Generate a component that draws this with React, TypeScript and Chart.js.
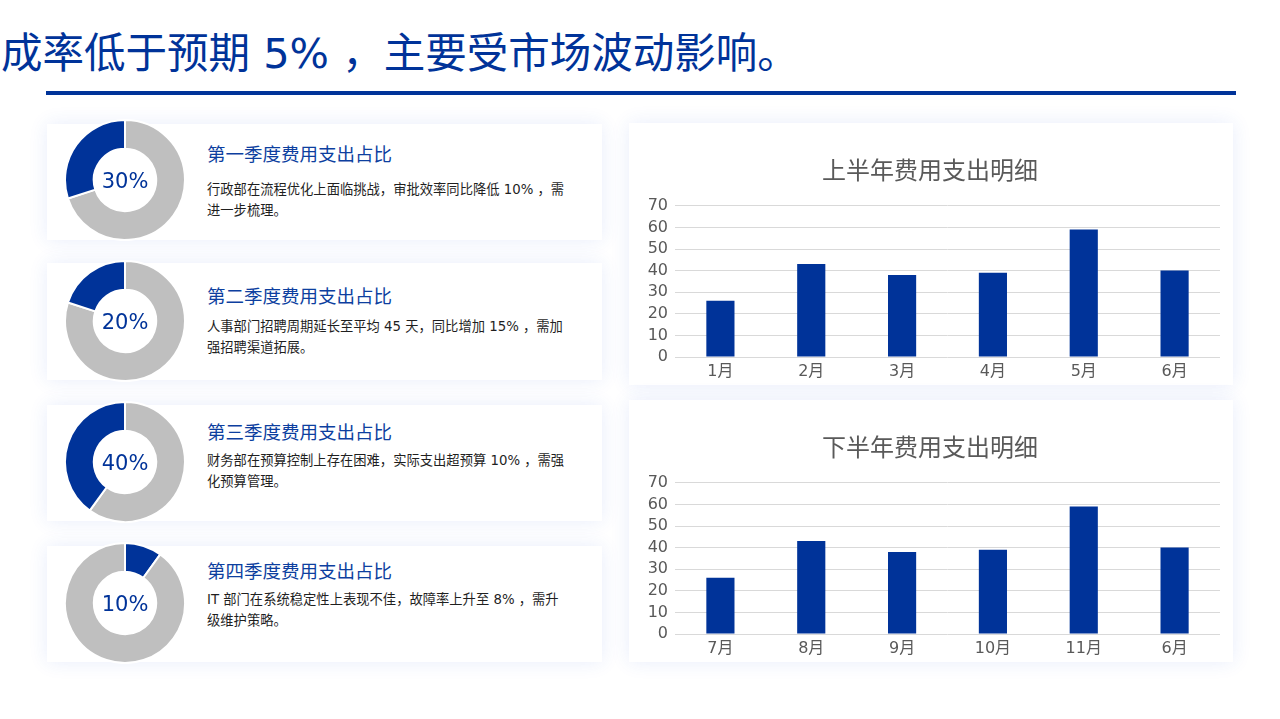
import React, { useEffect, useRef } from 'react';
import { Chart, registerables } from 'chart.js';

Chart.register(...registerables);

const pageTitle = '成率低于预期 5% ，主要受市场波动影响。';

const quarterTitles = ['第一季度费用支出占比', '第二季度费用支出占比', '第三季度费用支出占比', '第四季度费用支出占比'];
const quarterShares = [30, 20, 40, 10];
const quarterDescLines = [
  ['行政部在流程优化上面临挑战，审批效率同比降低 10% ，需', '进一步梳理。'],
  ['人事部门招聘周期延长至平均 45 天，同比增加 15% ，需加', '强招聘渠道拓展。'],
  ['财务部在预算控制上存在困难，实际支出超预算 10% ，需强', '化预算管理。'],
  ['IT 部门在系统稳定性上表现不佳，故障率上升至 8% ，需升', '级维护策略。'],
];
const shareClockwise = [false, false, false, true];

const firstHalfTitle = '上半年费用支出明细';
const firstHalfMonths = ['1月', '2月', '3月', '4月', '5月', '6月'];
const firstHalfValues = [26, 43, 38, 39, 59, 40];

const secondHalfTitle = '下半年费用支出明细';
const secondHalfMonths = ['7月', '8月', '9月', '10月', '11月', '6月'];
const secondHalfValues = [26, 43, 38, 39, 59, 40];

const yMax = 70;
const yStep = 10;

const BLUE = '#003399';
const GRAY = '#bfbfbf';
const FONT = '"DejaVu Sans", "Noto Sans CJK SC", sans-serif';
const SHADOW = '0 0 18px rgba(50,90,220,0.11)';

const cardTops = [124, 263, 405, 546];
const cardHeights = [116, 117, 116, 116];
const donutCenters = [180, 321, 462, 603];
const titleCenters = [155, 297, 433, 572];
const descCenters = [190, 327, 461, 600];

function Donut({ value, clockwise, cy }: { value: number; clockwise: boolean; cy: number }) {
  const ref = useRef<HTMLCanvasElement>(null);
  useEffect(() => {
    if (!ref.current) return;
    const data = clockwise ? [value, 100 - value] : [100 - value, value];
    const colors = clockwise ? [BLUE, GRAY] : [GRAY, BLUE];
    const chart = new Chart(ref.current, {
      type: 'doughnut',
      data: {
        labels: ['a', 'b'],
        datasets: [{ data, backgroundColor: colors, borderColor: '#ffffff', borderWidth: 2 }],
      },
      options: {
        animation: false,
        responsive: false,
        cutout: '52%',
        plugins: { legend: { display: false }, tooltip: { enabled: false } },
        layout: { padding: 0 },
      },
    });
    return () => chart.destroy();
  }, [value, clockwise]);
  return (
    <div style={{ position: 'absolute', left: 64, top: cy - 61, width: 122, height: 122 }}>
      <canvas ref={ref} width={122} height={122} style={{ width: 122, height: 122 }} />
      <div
        style={{
          position: 'absolute',
          left: 0,
          top: 1,
          width: 122,
          height: 122,
          display: 'flex',
          alignItems: 'center',
          justifyContent: 'center',
          color: BLUE,
          fontSize: 21,
          fontFamily: FONT,
        }}
      >
        {value}%
      </div>
    </div>
  );
}

function BarPanel({ title, labels, values, top }: { title: string; labels: string[]; values: number[]; top: number }) {
  const ref = useRef<HTMLCanvasElement>(null);
  useEffect(() => {
    if (!ref.current) return;
    const chart = new Chart(ref.current, {
      type: 'bar',
      data: {
        labels,
        datasets: [
          {
            data: values,
            backgroundColor: BLUE,
            borderWidth: 0,
            barPercentage: 0.31,
            categoryPercentage: 1,
          },
        ],
      },
      options: {
        animation: false,
        responsive: false,
        layout: { padding: { left: 0, right: 10, top: 0, bottom: 0 } },
        plugins: {
          legend: { display: false },
          tooltip: { enabled: false },
          title: {
            display: true,
            text: title,
            color: '#595959',
            font: { family: FONT, size: 24, weight: 'normal' },
            padding: { top: 28, bottom: 19 },
          },
        },
        scales: {
          x: {
            grid: { display: false, drawTicks: false },
            border: { display: false },
            ticks: { color: '#595959', font: { family: FONT, size: 16 }, padding: 5, autoSkip: false, maxRotation: 0 },
            afterFit: (s: any) => {
              s.height = 33;
            },
          },
          y: {
            min: 0,
            max: yMax,
            ticks: { stepSize: yStep, autoSkip: false, color: '#595959', font: { family: FONT, size: 16 }, padding: 7 },
            grid: { color: '#d9d9d9', lineWidth: 1, drawTicks: false },
            border: { display: false },
            afterFit: (s: any) => {
              s.width = 35;
            },
          },
        },
      },
    });
    return () => chart.destroy();
  }, [title, labels, values]);
  return (
    <div
      style={{
        position: 'absolute',
        left: 629,
        top,
        width: 604,
        height: 262,
        background: '#ffffff',
        boxShadow: SHADOW,
      }}
    >
      <canvas
        ref={ref}
        width={590}
        height={260}
        style={{ position: 'absolute', left: 11, top: 7, width: 590, height: 260 }}
      />
    </div>
  );
}

export default function App() {
  return (
    <div
      style={{
        position: 'fixed',
        left: 0,
        top: 0,
        width: 1280,
        height: 719,
        background: '#ffffff',
        overflow: 'hidden',
        fontFamily: FONT,
      }}
    >
      <div
        style={{
          position: 'absolute',
          left: 1,
          top: 27,
          fontSize: 41.5,
          lineHeight: '54px',
          color: BLUE,
          whiteSpace: 'nowrap',
        }}
      >
        {pageTitle}
      </div>
      <div style={{ position: 'absolute', left: 46, top: 91, width: 1190, height: 4, background: BLUE }} />

      {quarterTitles.map((t, i) => (
        <div
          key={'card' + i}
          style={{
            position: 'absolute',
            left: 47,
            top: cardTops[i],
            width: 555,
            height: cardHeights[i],
            background: '#ffffff',
            boxShadow: SHADOW,
          }}
        />
      ))}
      {quarterTitles.map((t, i) => (
        <React.Fragment key={'txt' + i}>
          <div
            style={{
              position: 'absolute',
              left: 207,
              top: titleCenters[i] - 12,
              fontSize: 18.5,
              lineHeight: '24px',
              color: '#0d3f9f',
              whiteSpace: 'nowrap',
            }}
          >
            {t}
          </div>
          {quarterDescLines[i].map((line, j) => (
            <div
              key={j}
              style={{
                position: 'absolute',
                left: 207,
                top: descCenters[i] + j * 21 - 10,
                fontSize: 13.3,
                lineHeight: '20px',
                color: '#1f1f1f',
                whiteSpace: 'nowrap',
              }}
            >
              {line}
            </div>
          ))}
        </React.Fragment>
      ))}
      {quarterShares.map((v, i) => (
        <Donut key={'d' + i} value={v} clockwise={shareClockwise[i]} cy={donutCenters[i]} />
      ))}

      <BarPanel title={firstHalfTitle} labels={firstHalfMonths} values={firstHalfValues} top={123} />
      <BarPanel title={secondHalfTitle} labels={secondHalfMonths} values={secondHalfValues} top={400} />
    </div>
  );
}
